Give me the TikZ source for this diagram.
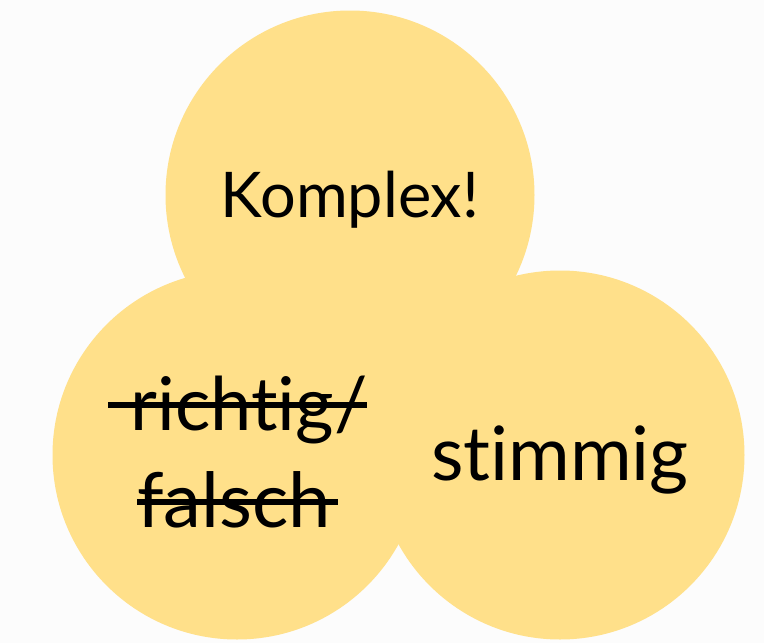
\documentclass[tikz,border=0pt]{standalone}
\usepackage{fontspec}
\setmainfont{Lato}[Ligatures=NoCommon]
\definecolor{bubblefill}{HTML}{FFE08A}
\definecolor{paper}{HTML}{FCFCFC}
\begin{document}
\begin{tikzpicture}[x=1pt,y=-1pt,
	bubble/.style={fill=bubblefill,draw=none},
	wordtext/.style={inner sep=0pt,anchor=base,text=black},
	strikeline/.style={draw=black,line width=5.5pt}]
	%Background and bounding box
	\fill[paper] (0,0) rectangle (764,643);
	\useasboundingbox (0,0) rectangle (764,643);
	%Centres of the three circles
	\coordinate (cTop) at (350,195);
	\coordinate (cLeft) at (237,455);
	\coordinate (cRight) at (560,455);
	\fill[bubble] (cTop) circle (184.5pt);
	\fill[bubble] (cLeft) circle (184.5pt);
	\fill[bubble] (cRight) circle (184.5pt);
	%The words
	\node [wordtext,font=\fontsize{63}{70}\selectfont] (komplex) at (350,217) {Komplex!};
	\node [wordtext,font=\fontsize{74}{80}\selectfont] (richtig) at (249,430) {richtig/};
	\node [wordtext,font=\fontsize{76}{80}\selectfont] (falsch) at (234,527) {falsch};
	\node [wordtext,font=\fontsize{75}{80}\selectfont] (stimmig) at (560,480) {stimmig};
	%Strike lines
	\coordinate (richtigStart) at (108,405);
	\coordinate (richtigEnd) at (367,405);
	\coordinate (falschStart) at (137,502);
	\coordinate (falschEnd) at (338,502);
	\draw[strikeline] (richtigStart) -- (richtigEnd);
	\draw[strikeline] (falschStart) -- (falschEnd);
\end{tikzpicture}
\end{document}
